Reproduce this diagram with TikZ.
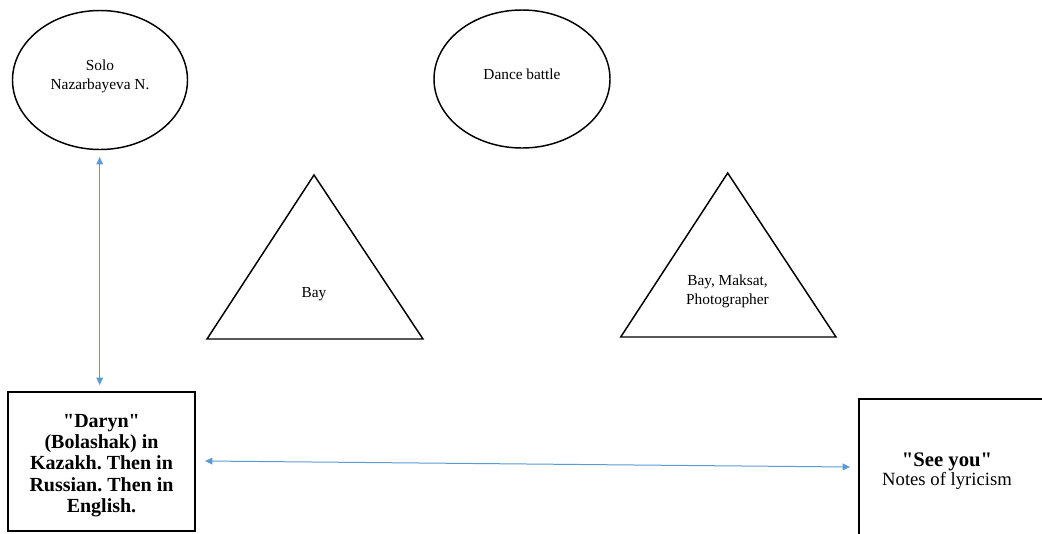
\documentclass[tikz,border=0pt]{standalone}
\usepackage{fontspec}
\setmainfont{Liberation Serif}[Ligatures=TeXOff]
\usetikzlibrary{shapes.geometric,arrows.meta,calc}
\definecolor{arrowblue}{RGB}{91,155,213}
\frenchspacing
\begin{document}
\begin{tikzpicture}[x=0.75pt,y=-0.75pt,
  oval/.style={ellipse, draw, line width=1.1pt, inner sep=0pt, outer sep=0pt},
  box/.style={rectangle, draw, line width=1.4pt, inner sep=0pt, outer sep=0pt},
  tri/.style={draw, line width=1.1pt, line join=miter},
  lbl/.style={align=center, inner sep=0pt, font=\fontsize{11.5}{14}\selectfont},
  boldlbl/.style={align=center, inner sep=0pt, font=\fontsize{15}{15.9}\selectfont\bfseries},
  link/.style={arrowblue, line width=0.75pt, {Triangle[length=5.5pt,width=5pt]}-{Triangle[length=5.5pt,width=5pt]}}]
\useasboundingbox (0,0) rectangle (1042,533);
\clip (0,0) rectangle (1042,533);
\fill[white] (0,0) rectangle (1042,533);

% ellipses
\node[oval, minimum width=131.25pt, minimum height=104.25pt] (solo) at (100,80) {};
\node[lbl] (solotext) at (100,76.5) {Solo\\Nazarbayeva N.};
\node[oval, minimum width=132pt, minimum height=103.5pt] (dance) at (522,79) {};
\node[lbl] (dancetext) at (522,74) {Dance battle};

% triangles
\draw[tri] (314,175) -- (423,339) -- (207,339) -- cycle;
\node[lbl] (baytext) at (314,294) {Bay};
\draw[tri] (727.7,173) -- (836,337) -- (620.7,337) -- cycle;
\node[lbl] (baymtext) at (727.5,291) {Bay, Maksat,\\Photographer};

% boxes
\node[box, minimum width=140.25pt, minimum height=104.25pt] (daryn) at (101.5,461.5) {};
\node[boldlbl] (daryntext) at (101.5,465.5) {"Daryn"\\(Bolashak) in\\Kazakh. Then in\\Russian. Then in\\English.};
\node[box, minimum width=150.75pt, minimum height=120.75pt] (seeyou) at (959.5,479.5) {};
\node[align=center, inner sep=0pt] (seeyoutext) at (947,471)
  {{\fontsize{15.5}{18}\selectfont\bfseries "See you"}\\{\fontsize{14}{18}\selectfont Notes of lyricism}};

% connectors
\draw[link] ($(solo.south)+(-0.3,7.5)$) -- ($(daryn.north)+(-1.8,-7)$);
\draw[link] ($(daryn.east)+(10,-0.5)$) -- ($(seeyou.west)+(-9,-12.5)$);
\end{tikzpicture}
\end{document}
